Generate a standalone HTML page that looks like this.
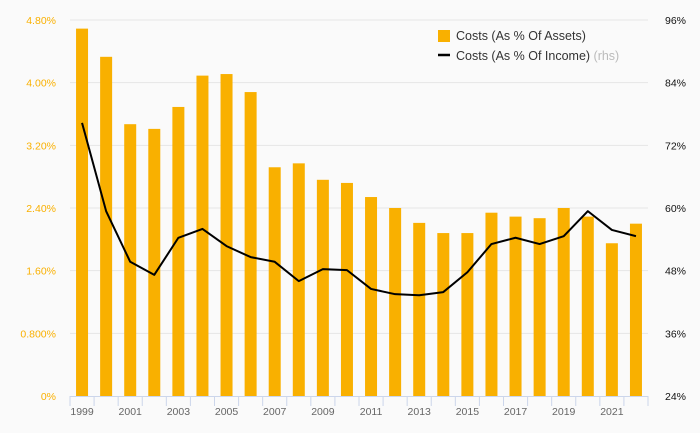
<!DOCTYPE html>
<html><head><meta charset="utf-8"><style>
body{margin:0;background:#fafafa;font-family:"Liberation Sans","DejaVu Sans",sans-serif}
svg{display:block}
text{font-family:"Liberation Sans","DejaVu Sans",sans-serif}
</style></head><body>
<svg id="chart" width="700" height="433">
<rect width="700" height="433" fill="#fafafa"/>
<g id="grid"></g><g id="bars"></g><g id="axes"></g><g id="line"></g>
<g>
<rect x="438" y="30" width="12" height="12" fill="#f9b000"/>
<text x="456" y="40" font-size="12.5" fill="#333">Costs (As % Of Assets)</text>
<line x1="438" y1="55" x2="450" y2="55" stroke="#000" stroke-width="2.5"/>
<text x="456" y="60" font-size="12.5" fill="#333">Costs (As % Of Income) <tspan fill="#bbb">(rhs)</tspan></text>
</g>
</svg>
<script>
const years=[1999,2000,2001,2002,2003,2004,2005,2006,2007,2008,2009,2010,2011,2012,2013,2014,2015,2016,2017,2018,2019,2020,2021,2022];
const assetCosts=[4.69,4.33,3.47,3.41,3.69,4.09,4.11,3.88,2.92,2.97,2.76,2.72,2.54,2.40,2.21,2.08,2.08,2.34,2.29,2.27,2.40,2.29,1.95,2.20];
const incomeCosts=[76.3,59.4,49.7,47.2,54.3,56.0,52.7,50.6,49.7,46.0,48.3,48.1,44.5,43.5,43.3,43.9,47.7,53.1,54.3,53.1,54.6,59.4,55.8,54.6];
const leftTicks=[0,0.8,1.6,2.4,3.2,4.0,4.8];
const leftLabels=["0%","0.800%","1.60%","2.40%","3.20%","4.00%","4.80%"];
const rightTicks=[24,36,48,60,72,84,96];
const NS="http://www.w3.org/2000/svg";
const X0=70,X1=648,Y0=396,Y1=20;
const bw=(X1-X0)/years.length;
const xc=i=>X0+bw*(i+0.5);
const yL=v=>Y0-(v/4.8)*(Y0-Y1);
const yR=v=>Y0-((v-24)/72)*(Y0-Y1);
function mk(tag,attrs,parent){const e=document.createElementNS(NS,tag);for(const k in attrs)e.setAttribute(k,attrs[k]);parent.appendChild(e);return e;}
const grid=document.getElementById('grid'),bars=document.getElementById('bars'),axes=document.getElementById('axes'),lineG=document.getElementById('line');
leftTicks.forEach((t,i)=>{
 const y=yL(t);
 if(i>0){const g=mk('line',{x1:X0,x2:X1,y1:y,y2:y,stroke:'#e6e6e6','stroke-width':1},grid);
 
 }
 const l=mk('text',{x:56,y:y+4,'text-anchor':'end','font-size':10.5,fill:'#f9b000'},axes);l.textContent=leftLabels[i];
 
 
});
rightTicks.forEach(t=>{
 const y=yR(t);
 const l=mk('text',{x:686,y:y+4,'text-anchor':'end','font-size':10.5,fill:'#111'},axes);l.textContent=t+'%';
 
 
});
years.forEach((yr,i)=>{
 const y=yL(assetCosts[i]);
 const b=mk('rect',{x:xc(i)-6,y:y,width:12,height:Y0-y,fill:'#f9b000'},bars);
 
 
});
const ax=mk('line',{x1:X0,x2:X1,y1:Y0+0.5,y2:Y0+0.5,stroke:'#ccd6eb'},axes);


for(let i=0;i<=years.length;i++){
 const x=X0+bw*i;
 const t=mk('line',{x1:x,x2:x,y1:Y0,y2:Y0+10,stroke:'#ccd6eb'},axes);
 
 
}
years.forEach((yr,i)=>{if(i%2===0){
 const l=mk('text',{x:xc(i),y:415,'text-anchor':'middle','font-size':10.5,fill:'#666'},axes);l.textContent=yr;
 
 
}});
const p=mk('polyline',{points:incomeCosts.map((v,i)=>xc(i)+','+yR(v)).join(' '),fill:'none',stroke:'#000','stroke-width':2,'stroke-linejoin':'round'},lineG);


</script>
</body></html>
